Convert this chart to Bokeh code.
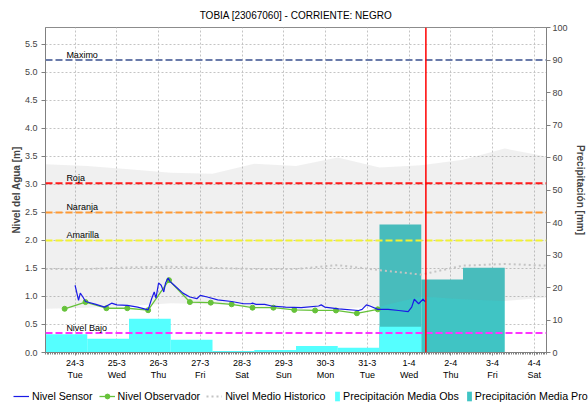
import pandas as pd
from bokeh.plotting import figure
from bokeh.layouts import column
from bokeh.models import (Range1d, LinearAxis, FixedTicker, Label, Legend, LegendItem,
                          Span, ColumnDataSource, NumeralTickFormatter)
from bokeh.embed import file_html
from bokeh.resources import INLINE

FONT = "Liberation Sans"

title_text = "TOBIA [23067060] - CORRIENTE: NEGRO"
y_label = "Nivel del Agua [m]"
y2_label = "Precipitación [mm]"

x_start = "2026-03-23 07:00"
x_end = "2026-04-04 07:00"
now_time = "2026-04-01 09:40"

day_ticks = ["2026-03-24", "2026-03-25", "2026-03-26", "2026-03-27", "2026-03-28", "2026-03-29",
             "2026-03-30", "2026-03-31", "2026-04-01", "2026-04-02", "2026-04-03", "2026-04-04"]
day_labels = ["24-3\nTue", "25-3\nWed", "26-3\nThu", "27-3\nFri", "28-3\nSat", "29-3\nSun",
              "30-3\nMon", "31-3\nTue", "1-4\nWed", "2-4\nThu", "3-4\nFri", "4-4\nSat"]
level_ticks = [0.0, 0.5, 1.0, 1.5, 2.0, 2.5, 3.0, 3.5, 4.0, 4.5, 5.0, 5.5]
precip_ticks = [0, 10, 20, 30, 40, 50, 60, 70, 80, 90, 100]

# threshold levels
threshold_names = ["Maximo", "Roja", "Naranja", "Amarilla", "Nivel Bajo"]
threshold_values = [5.22, 3.02, 2.5, 2.0, 0.35]
threshold_colors = ["#6A7BAA", "#FF1A1A", "#FF9933", "#F2F230", "#FF33FF"]

# sensor level
sensor_times = ["2026-03-24 00:00", "2026-03-24 02:00", "2026-03-24 03:00", "2026-03-24 04:30",
                "2026-03-24 06:00", "2026-03-24 12:00", "2026-03-24 17:00", "2026-03-24 21:00",
                "2026-03-25 00:00", "2026-03-25 06:00", "2026-03-25 12:00", "2026-03-25 18:00",
                "2026-03-25 20:00", "2026-03-25 21:30", "2026-03-25 22:30", "2026-03-26 00:00",
                "2026-03-26 01:30", "2026-03-26 03:00", "2026-03-26 04:00", "2026-03-26 05:30",
                "2026-03-26 06:30", "2026-03-26 09:00", "2026-03-26 14:00", "2026-03-26 18:00",
                "2026-03-26 22:00", "2026-03-27 00:00", "2026-03-27 04:00", "2026-03-27 10:00",
                "2026-03-27 18:00", "2026-03-28 01:00", "2026-03-28 05:00", "2026-03-28 06:00",
                "2026-03-28 08:00", "2026-03-28 13:00", "2026-03-28 17:00", "2026-03-29 01:00",
                "2026-03-29 10:00", "2026-03-29 20:00", "2026-03-29 21:30", "2026-03-29 23:30",
                "2026-03-30 07:30", "2026-03-30 19:00", "2026-03-30 21:00", "2026-03-30 23:30",
                "2026-03-31 01:30", "2026-03-31 06:00", "2026-03-31 12:00", "2026-03-31 18:00",
                "2026-03-31 23:30", "2026-04-01 01:30", "2026-04-01 03:00", "2026-04-01 05:30",
                "2026-04-01 08:00", "2026-04-01 09:30"]
sensor_levels = [1.20, 0.93, 1.06, 0.99,
                 0.91, 0.86, 0.81, 0.88,
                 0.85, 0.84, 0.81, 0.76,
                 0.96, 1.08, 0.97, 1.24,
                 1.20, 1.08, 1.24, 1.33,
                 1.27, 1.20, 1.06, 0.99,
                 0.96, 1.02, 0.99, 0.94,
                 0.91, 0.87, 0.87, 0.88,
                 0.86, 0.86, 0.83, 0.81,
                 0.80, 0.83, 0.85, 0.81,
                 0.78, 0.75, 0.77, 0.85,
                 0.83, 0.77, 0.77, 0.75,
                 0.73, 0.81, 0.95, 0.87,
                 0.95, 0.90]

# observer readings
obs_times = ["2026-03-23 18:00", "2026-03-24 06:00", "2026-03-24 18:00", "2026-03-25 06:00",
             "2026-03-25 18:00", "2026-03-26 06:00", "2026-03-26 18:00", "2026-03-27 06:00",
             "2026-03-27 18:00", "2026-03-28 06:00", "2026-03-28 18:00", "2026-03-29 06:00",
             "2026-03-29 18:00", "2026-03-30 06:00", "2026-03-30 18:00", "2026-03-31 06:00"]
obs_levels = [0.78, 0.90, 0.79, 0.79, 0.755, 1.29, 0.90, 0.89, 0.86, 0.80, 0.80, 0.76,
              0.75, 0.75, 0.70, 0.77]

# historic mean level and range
hist_times = ["2026-03-23 07:00", "2026-03-24 07:00", "2026-03-25 07:00", "2026-03-26 07:00",
              "2026-03-27 07:00", "2026-03-28 07:00", "2026-03-29 07:00", "2026-03-30 07:00",
              "2026-03-31 07:00", "2026-04-01 07:00", "2026-04-02 07:00", "2026-04-03 07:00",
              "2026-04-04 07:00"]
hist_mean = [1.49, 1.49, 1.52, 1.53, 1.51, 1.49, 1.49, 1.56, 1.47, 1.39, 1.55, 1.58, 1.55]
hist_upper = [3.36, 3.33, 3.27, 3.21, 3.19, 3.37, 3.33, 3.48, 3.30, 3.34, 3.44, 3.64, 3.50]
hist_lower = [0.78, 0.80, 0.83, 0.88, 0.86, 0.82, 0.79, 0.78, 0.82, 1.00, 0.95, 0.92, 0.98]

# precipitation (daily, 07:00 to 07:00)
precip_obs_start = ["2026-03-23 07:00", "2026-03-24 07:00", "2026-03-25 07:00", "2026-03-26 07:00",
                    "2026-03-27 07:00", "2026-03-28 07:00", "2026-03-29 07:00", "2026-03-30 07:00",
                    "2026-03-31 07:00"]
precip_obs_mm = [5.6, 4.2, 10.4, 3.9, 0.5, 0.8, 2.0, 1.5, 7.9]
precip_pro_start = ["2026-03-31 07:00", "2026-04-01 07:00", "2026-04-02 07:00"]
precip_pro_mm = [39.4, 22.5, 26.1]

legend_line_labels = ["Nivel Sensor", "Nivel Observador", "Nivel Medio Historico"]
legend_box_labels = ["Precipitación Media Obs", "Precipitación Media Pro"]

# styles
C_SENSOR = "#1A1AE6"
C_OBS = "#66C23A"
C_HIST = "#C4C4C4"
C_POBS = "#55FFFF"
C_PPRO = "#40C4C4"


def ms(t):
    return int(pd.Timestamp(t).value // 10**6)


def no_frame_align(fig):
    if "frame_align" in fig.properties():
        fig.frame_align = False


p = figure(width=588, height=386, output_backend="svg", toolbar_location=None,
           x_range=Range1d(ms(x_start), ms(x_end)), y_range=Range1d(0, 5.8),
           min_border_left=45, min_border_right=39, min_border_top=27, min_border_bottom=34)
p.extra_y_ranges = {"precip": Range1d(0, 100)}
p.background_fill_color = "white"
p.border_fill_color = "white"
p.outline_line_color = "#8C8C8C"
no_frame_align(p)

# title
p.title.text = title_text
p.title.align = "center"
p.title.text_font = FONT
p.title.text_font_size = "10px"
p.title.text_font_style = "normal"
p.title.text_color = "#000000"
p.title.standoff = 13

# x axis
tick_ms = [ms(t) for t in day_ticks]
minor_ms = list(range(ms(x_start), ms(x_end) + 1, 3600 * 1000))
xt = FixedTicker(ticks=tick_ms, minor_ticks=minor_ms)
xa = p.xaxis[0]
xa.ticker = xt
xa.major_label_overrides = {k: v for k, v in zip(tick_ms, day_labels)}
xa.major_label_text_font = FONT
xa.major_label_text_font_size = "9px"
xa.major_label_text_color = "#000000"
xa.major_label_standoff = 2
xa.major_tick_out = 3
xa.major_tick_in = 0
xa.minor_tick_out = 2
xa.minor_tick_in = 0
xa.axis_line_color = "#808080"
xa.major_tick_line_color = "#808080"
xa.minor_tick_line_color = "#808080"

# left axis
ya = p.yaxis[0]
ya.ticker = FixedTicker(ticks=level_ticks)
ya.formatter = NumeralTickFormatter(format="0.0")
ya.axis_label = y_label
ya.axis_label_text_font = FONT
ya.axis_label_text_font_size = "10px"
ya.axis_label_text_font_style = "bold"
ya.axis_label_standoff = 0
ya.major_label_text_font = FONT
ya.major_label_text_font_size = "9px"
ya.major_label_standoff = 4
ya.major_tick_out = 4
ya.major_tick_in = 0
ya.minor_tick_out = 0
ya.minor_tick_in = 0
ya.axis_line_color = "#808080"
ya.major_tick_line_color = "#808080"

# right axis
ra = LinearAxis(y_range_name="precip", ticker=FixedTicker(ticks=precip_ticks),
                axis_label=y2_label)
ra.axis_label_text_font = FONT
ra.axis_label_text_font_size = "10px"
ra.axis_label_text_font_style = "bold"
ra.axis_label_standoff = 4
ra.major_label_text_font = FONT
ra.major_label_text_font_size = "9px"
ra.major_label_standoff = 2
ra.major_tick_out = 4
ra.major_tick_in = 0
ra.minor_tick_out = 0
ra.minor_tick_in = 0
ra.axis_line_color = "#808080"
ra.major_tick_line_color = "#808080"
p.add_layout(ra, "right")

# grids
p.xgrid.ticker = xt
p.ygrid.ticker = FixedTicker(ticks=level_ticks)
for g in (p.xgrid[0], p.ygrid[0]):
    g.grid_line_color = "#C4C4C4"
    g.grid_line_dash = "2 2"
    g.grid_line_width = 1

# precipitation bars
pro_left = pd.to_datetime(precip_pro_start)
pro_src = ColumnDataSource(dict(left=pro_left, right=pro_left + pd.Timedelta(days=1),
                                top=precip_pro_mm, bottom=[0] * len(precip_pro_mm)))
p.quad(left="left", right="right", top="top", bottom="bottom", source=pro_src,
       y_range_name="precip", fill_color=C_PPRO, line_color=None)

obs_left = pd.to_datetime(precip_obs_start)
obs_src = ColumnDataSource(dict(left=obs_left, right=obs_left + pd.Timedelta(days=1),
                                top=precip_obs_mm, bottom=[0] * len(precip_obs_mm)))
p.quad(left="left", right="right", top="top", bottom="bottom", source=obs_src,
       y_range_name="precip", fill_color=C_POBS, line_color=None)

# historic range band (translucent grey)
hist_src = ColumnDataSource(dict(t=pd.to_datetime(hist_times), lo=hist_lower, hi=hist_upper,
                                 mean=hist_mean))
p.varea(x="t", y1="lo", y2="hi", source=hist_src, fill_color="#808080", fill_alpha=0.12)
p.line(x="t", y="mean", source=hist_src, line_color=C_HIST, line_width=2, line_dash="2 3")

# observer
osrc = ColumnDataSource(dict(t=pd.to_datetime(obs_times), v=obs_levels))
p.line(x="t", y="v", source=osrc, line_color=C_OBS, line_width=1.3)
p.scatter(x="t", y="v", source=osrc, marker="circle", size=5, fill_color=C_OBS, line_color=C_OBS)

# sensor
ssrc = ColumnDataSource(dict(t=pd.to_datetime(sensor_times), v=sensor_levels))
p.line(x="t", y="v", source=ssrc, line_color=C_SENSOR, line_width=1.2)

# thresholds
label_x = ms(x_start) + 12 * 3600 * 1000
for name, val, col in zip(threshold_names, threshold_values, threshold_colors):
    p.add_layout(Span(location=val, dimension="width", line_color=col, line_width=2,
                      line_dash="7 3"))
    p.add_layout(Label(x=label_x, y=val, text=name, text_font=FONT, text_font_size="9px",
                       text_color="#000000", text_baseline="bottom", y_offset=0))

# now line
p.add_layout(Span(location=ms(now_time), dimension="height", line_color="#FF0000",
                  line_width=1.5))

# legend strip (separate figure under the chart); its sample glyphs sit outside its range
q = figure(width=588, height=16, output_backend="svg", toolbar_location=None,
           x_axis_location=None, y_axis_location=None, x_range=Range1d(0, 1),
           y_range=Range1d(0, 1), min_border=0)
q.outline_line_color = None
q.grid.visible = False
q.background_fill_color = "white"
q.border_fill_color = "white"
no_frame_align(q)
l_sensor = q.line(x=[5, 6], y=[5, 5], line_color=C_SENSOR, line_width=1.2)
l_obs = q.line(x=[5, 6], y=[5, 5], line_color=C_OBS, line_width=1.3)
l_obs_pt = q.scatter(x=[5], y=[5], marker="circle", size=4, fill_color=C_OBS, line_color=C_OBS)
l_hist = q.line(x=[5, 6], y=[5, 5], line_color=C_HIST, line_width=2, line_dash="2 3")
l_pobs = q.quad(left=[5], right=[6], top=[6], bottom=[5], fill_color=C_POBS, line_color=None)
l_ppro = q.quad(left=[5], right=[6], top=[6], bottom=[5], fill_color=C_PPRO, line_color=None)

leg1 = Legend(items=[
    LegendItem(label=legend_line_labels[0], renderers=[l_sensor]),
    LegendItem(label=legend_line_labels[1], renderers=[l_obs, l_obs_pt]),
    LegendItem(label=legend_line_labels[2], renderers=[l_hist]),
], orientation="horizontal", location=(13, 0))
leg2 = Legend(items=[
    LegendItem(label=legend_box_labels[0], renderers=[l_pobs]),
    LegendItem(label=legend_box_labels[1], renderers=[l_ppro]),
], orientation="horizontal", location=(334, 0))
for lg, gw, sp in ((leg1, 16, 6), (leg2, 6, 7)):
    lg.label_text_font = FONT
    lg.label_text_font_size = "10.7px"
    lg.label_text_color = "#000000"
    lg.label_standoff = 3
    lg.glyph_width = gw
    lg.glyph_height = 12
    lg.label_height = 12
    lg.spacing = sp
    lg.padding = 0
    lg.margin = 0
    lg.border_line_color = None
    lg.background_fill_alpha = 0
    q.add_layout(lg, "center")

layout = column(p, q, spacing=0)
open("out.html", "w").write(file_html(layout, INLINE))
